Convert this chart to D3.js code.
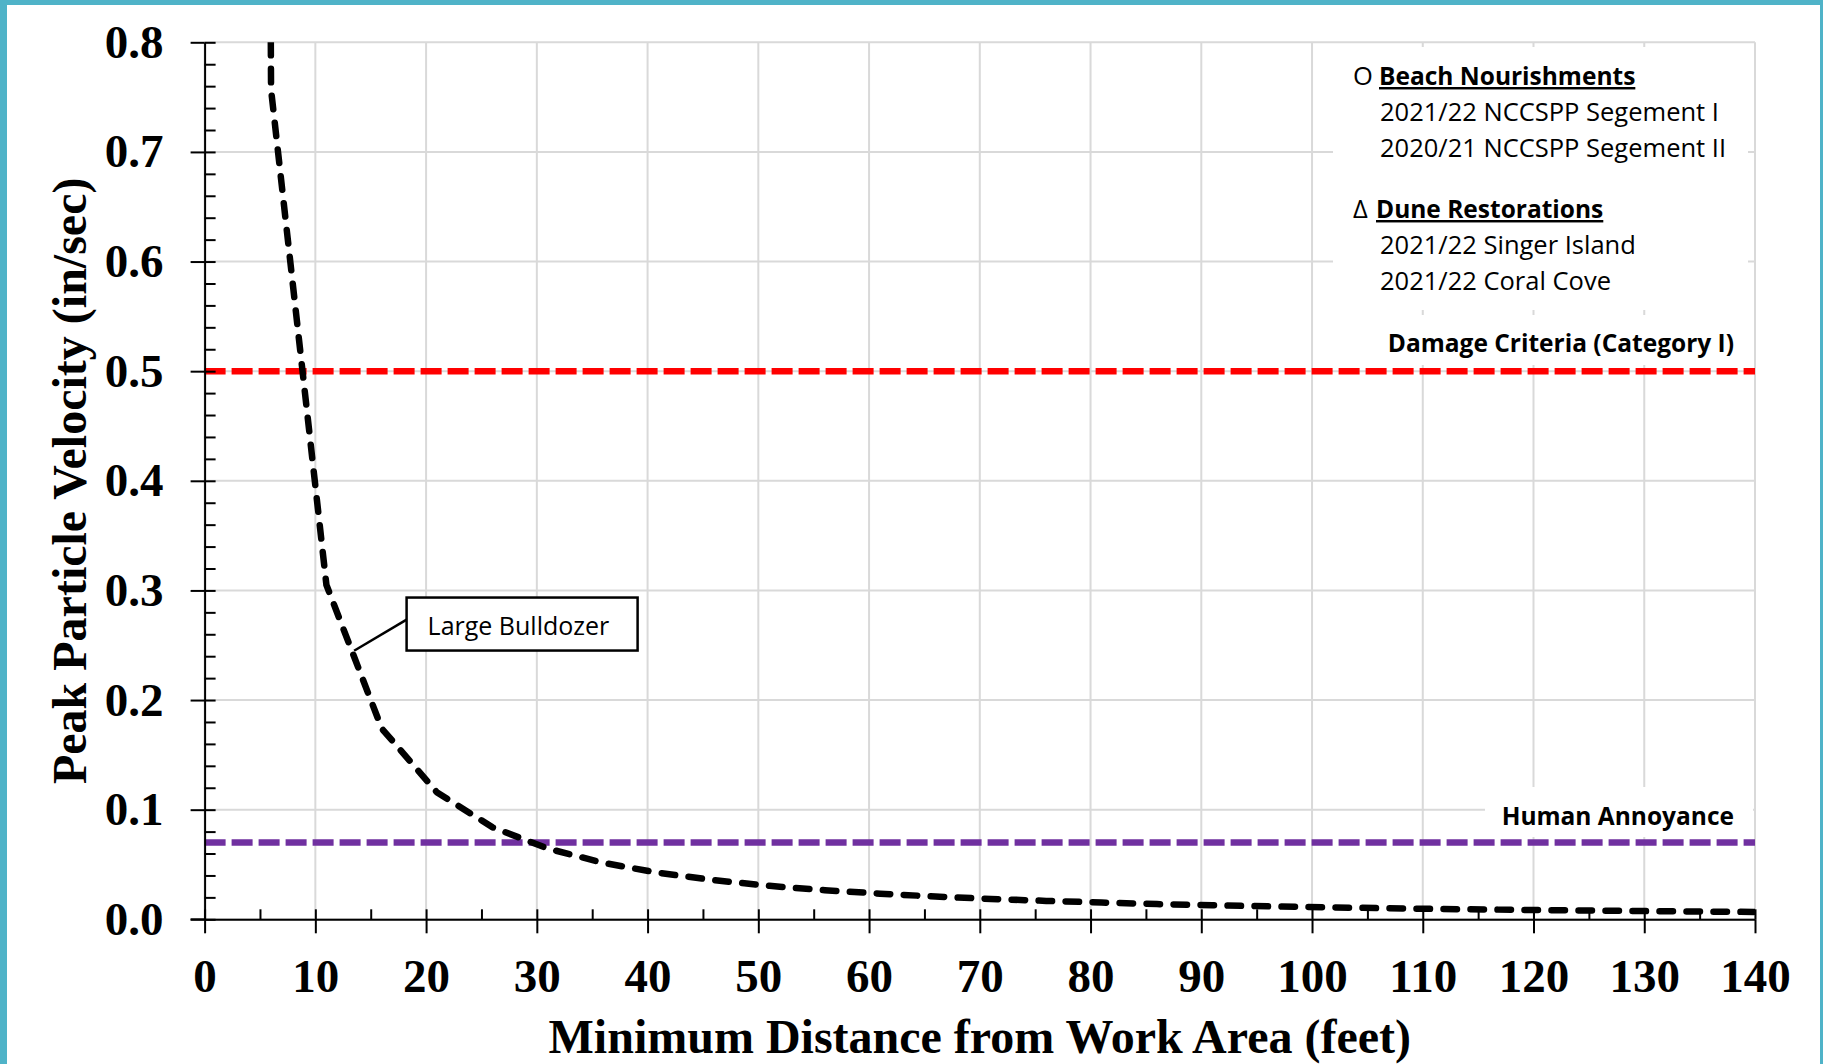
<!DOCTYPE html>
<html>
<head>
<meta charset="utf-8">
<script src="https://cdn.jsdelivr.net/npm/d3@7"></script>
<style>
  body { margin: 0; background: #fff; }
  .tick text { font-family: "Liberation Serif", "Times New Roman", serif; font-weight: bold; font-size: 47px; fill: #000; }
  .note { font-family: "Open Sans", sans-serif; font-size: 25.5px; fill: #000; }
  .note.bold { font-weight: bold; font-size: 24.5px; }
</style>
</head>
<body>
<div id="chart"></div>
<script>
// distance (ft) and PPV (in/sec) for the large bulldozer curve
const distance = [1, 6, 11, 16, 21, 26, 31, 36, 41, 46, 51, 56, 61, 66, 71, 76, 81, 86, 91, 96, 101, 106, 111, 116, 121, 126, 131, 136, 141];
const ppv = [11.12, 0.757, 0.305, 0.174, 0.1156, 0.0839, 0.0645, 0.0515, 0.0424, 0.0357, 0.0305, 0.0265, 0.0234, 0.0207, 0.0186, 0.0168, 0.0153, 0.0139, 0.0128, 0.0118, 0.0110, 0.0102, 0.0095, 0.0089, 0.0084, 0.0079, 0.0074, 0.0070, 0.0066];

const thresholdNames = ["Damage Criteria (Category I)", "Human Annoyance"];
const thresholdValues = [0.5, 0.07];
const thresholdColors = ["#ff0000", "#7030a0"];

const xTickValues = [0, 10, 20, 30, 40, 50, 60, 70, 80, 90, 100, 110, 120, 130, 140];
const yTickValues = [0, 0.1, 0.2, 0.3, 0.4, 0.5, 0.6, 0.7, 0.8];

const legendSymbols = ["O", "\u0394"];
const legendHeads = ["Beach Nourishments", "Dune Restorations"];
const legendItems = [
    ["2021/22 NCCSPP Segement I", "2020/21 NCCSPP Segement II"],
    ["2021/22 Singer Island", "2021/22 Coral Cove"]
];

const W = 1823, H = 1064;
const m = { left: 204.6, right: 1755, top: 42.3, bottom: 919.3 };

const x = d3.scaleLinear().domain([0, 140]).range([m.left, m.right]);
const y = d3.scaleLinear().domain([0, 0.8]).range([m.bottom, m.top]);

const svg = d3.select("#chart").append("svg")
    .attr("width", W).attr("height", H);

// frame
svg.append("rect").attr("width", W).attr("height", H).attr("fill", "#fff");
svg.append("rect").attr("x", 0).attr("y", 0).attr("width", 7).attr("height", H).attr("fill", "#4fb3c8");
svg.append("rect").attr("x", 0).attr("y", 0).attr("width", W).attr("height", 5).attr("fill", "#4fb3c8");
svg.append("rect").attr("x", W - 3).attr("y", 0).attr("width", 3).attr("height", H).attr("fill", "#4fb3c8");

// grid
const grid = svg.append("g").attr("stroke", "#d9d9d9").attr("stroke-width", 2);
grid.selectAll(".h").data(yTickValues).join("line").attr("class", "h")
    .attr("x1", m.left).attr("x2", m.right)
    .attr("y1", d => y(d)).attr("y2", d => y(d));
grid.selectAll(".v").data(xTickValues).join("line").attr("class", "v")
    .attr("x1", d => x(d)).attr("x2", d => x(d))
    .attr("y1", m.top).attr("y2", m.bottom);

// white panels behind the notes
svg.append("rect").attr("x", 1333).attr("y", 47).attr("width", 415).attr("height", 263).attr("fill", "#fff");
svg.append("rect").attr("x", 1385).attr("y", 315).attr("width", 363).attr("height", 50).attr("fill", "#fff");
svg.append("rect").attr("x", 1485).attr("y", 787).attr("width", 268).attr("height", 50).attr("fill", "#fff");

// threshold lines
svg.append("g").selectAll("line")
    .data(thresholdValues)
    .join("line")
    .attr("x1", m.left).attr("x2", m.right)
    .attr("y1", d => y(d)).attr("y2", d => y(d))
    .attr("stroke", (d, i) => thresholdColors[i])
    .attr("stroke-width", 6.5)
    .attr("stroke-dasharray", "21,6");

svg.append("g").selectAll("text")
    .data(thresholdNames)
    .join("text")
    .attr("class", "note bold")
    .attr("text-anchor", "end")
    .attr("x", 1734)
    .attr("y", (d, i) => y(thresholdValues[i]) - [19, 18][i])
    .text(d => d);

// curve
svg.append("clipPath").attr("id", "plot")
    .append("rect").attr("x", m.left).attr("y", m.top).attr("width", m.right - m.left).attr("height", m.bottom - m.top);

const line = d3.line()
    .x((d, i) => x(distance[i]))
    .y(d => y(d));

svg.append("path")
    .datum(ppv)
    .attr("clip-path", "url(#plot)")
    .attr("fill", "none")
    .attr("stroke", "#000")
    .attr("stroke-width", 6.5)
    .attr("stroke-linecap", "round")
    .attr("stroke-dasharray", "13.5,13.5")
    .attr("d", line);

// callout
const bx = x(18.24), by = y(0.2935);
svg.append("line")
    .attr("x1", bx).attr("y1", by + 22)
    .attr("x2", x(13.5)).attr("y2", y(0.245))
    .attr("stroke", "#000").attr("stroke-width", 2.5);
svg.append("rect")
    .attr("x", bx).attr("y", by).attr("width", 231).attr("height", 53)
    .attr("fill", "#fff").attr("stroke", "#000").attr("stroke-width", 2.5);
svg.append("text").attr("class", "note")
    .attr("x", bx + 21).attr("y", by + 37)
    .style("font-size", "25px")
    .text("Large Bulldozer");

// axes
svg.append("g")
    .attr("transform", `translate(${m.left},0)`)
    .call(d3.axisLeft(y).tickValues(yTickValues).tickFormat(d3.format(".1f")).tickSize(14).tickSizeOuter(0).tickPadding(27));
const yInner = svg.append("g")
    .attr("transform", `translate(${m.left},0)`)
    .call(d3.axisRight(y).tickValues(d3.range(0, 0.81, 0.02)).tickFormat("").tickSize(11).tickSizeOuter(0));
yInner.select(".domain").remove();

svg.append("g")
    .attr("transform", `translate(0,${m.bottom})`)
    .call(d3.axisBottom(x).tickValues(xTickValues).tickSize(14).tickSizeOuter(0).tickPadding(25));
const xInner = svg.append("g")
    .attr("transform", `translate(0,${m.bottom})`)
    .call(d3.axisTop(x).tickValues(d3.range(0, 141, 5)).tickFormat("").tickSize(10).tickSizeOuter(0));
xInner.select(".domain").remove();

svg.selectAll(".domain, .tick line").attr("stroke", "#000").attr("stroke-width", 2);
svg.append("line").attr("x1", m.left - 14).attr("x2", m.left)
    .attr("y1", m.bottom).attr("y2", m.bottom).attr("stroke", "#000").attr("stroke-width", 2);

// axis titles
svg.append("text")
    .attr("x", (m.left + m.right) / 2).attr("y", 1053)
    .attr("text-anchor", "middle")
    .style("font-family", "'Liberation Serif', serif").style("font-weight", "bold").style("font-size", "48px")
    .text("Minimum Distance from Work Area (feet)");
svg.append("text")
    .attr("transform", `translate(86,${(m.top + m.bottom) / 2}) rotate(-90)`)
    .attr("text-anchor", "middle")
    .style("font-family", "'Liberation Serif', serif").style("font-weight", "bold").style("font-size", "48px")
    .text("Peak Particle Velocity (in/sec)");

// legend
const legend = svg.append("g");
legendHeads.forEach((h, i) => {
    const y0 = [85, 218][i];
    legend.append("text").attr("class", "note").attr("x", 1353).attr("y", y0).text(legendSymbols[i]);
    legend.append("text").attr("class", "note bold")
        .attr("x", [1379, 1376][i]).attr("y", y0)
        .style("text-decoration", "underline")
        .text(h);
    legendItems[i].forEach((t, j) => {
        legend.append("text").attr("class", "note")
            .attr("x", 1380).attr("y", y0 + 35.5 + j * 36.5)
            .text(t);
    });
});
</script>
</body>
</html>
